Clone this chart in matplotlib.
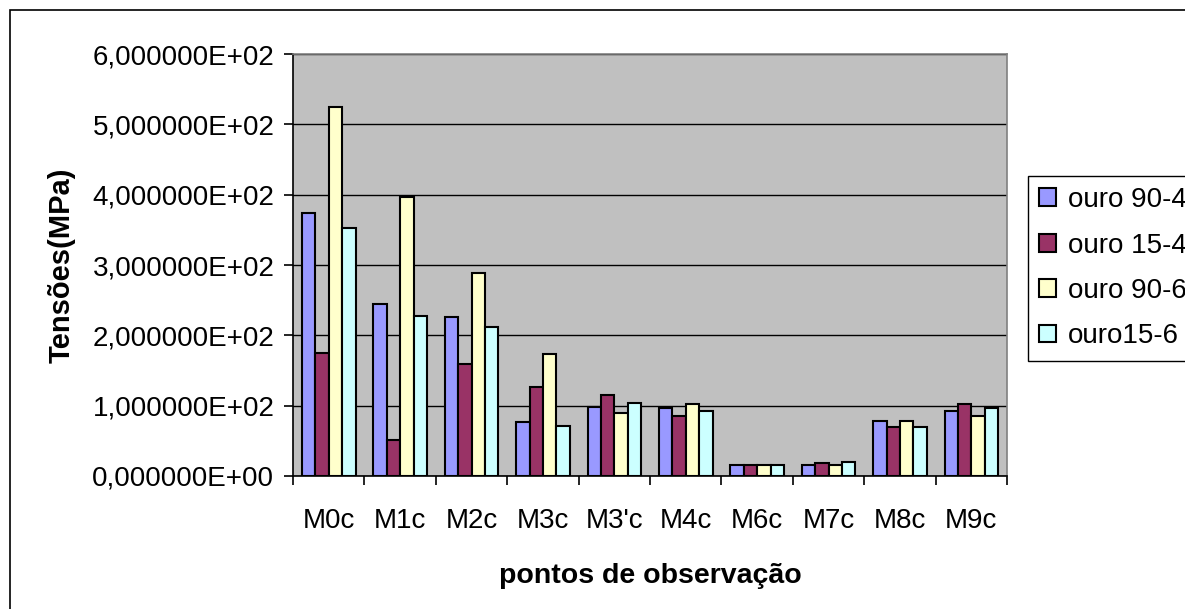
import numpy as np
import matplotlib.pyplot as plt
from matplotlib.ticker import FuncFormatter, MultipleLocator
from matplotlib.patches import Rectangle

plt.rcParams['font.family'] = ['Liberation Sans', 'DejaVu Sans']

pontos = ['M0c', 'M1c', 'M2c', 'M3c', "M3'c", 'M4c', 'M6c', 'M7c', 'M8c', 'M9c']
ouro_90_4 = [374, 244, 226, 77, 98, 97, 16, 16, 78, 92]
ouro_15_4 = [175, 51, 159, 126, 115, 86, 16, 19, 70, 103]
ouro_90_6 = [525, 396, 289, 173, 90, 103, 16, 16, 78, 86]
ouro15_6 = [352, 228, 212, 71, 104, 92, 16, 20, 70, 97]

series = [('ouro 90-4', ouro_90_4, '#9999FF'),
          ('ouro 15-4', ouro_15_4, '#993366'),
          ('ouro 90-6', ouro_90_6, '#FFFFCC'),
          ('ouro15-6', ouro15_6, '#CCFFFF')]

fig = plt.figure(figsize=(11.85, 6.09), dpi=100)
ax = fig.add_axes([0.2473, 0.2184, 0.6025, 0.6929])
ax.set_facecolor('#C0C0C0')

x = np.arange(len(pontos))
w = 0.1875
for i, (nome, vals, cor) in enumerate(series):
    ax.bar(x + (i - 1.5) * w, vals, w, color=cor, edgecolor='black',
           linewidth=1.5, label=nome, zorder=3)

ax.set_xlim(-0.5, len(pontos) - 0.5)
ax.set_ylim(0, 600)
ax.yaxis.set_major_locator(MultipleLocator(100))
ax.yaxis.set_major_formatter(FuncFormatter(lambda v, p: f'{v:.6E}'.replace('.', ',')))
ax.grid(axis='y', color='black', linewidth=1, zorder=1)

ax.set_xticks(x)
ax.set_xticklabels(pontos)
ax.set_xticks(np.arange(-0.5, len(pontos)), minor=True)
ax.tick_params(axis='x', which='major', length=0, pad=23, labelsize=20)
ax.tick_params(axis='x', which='minor', length=6.5, width=1.2, direction='out')
ax.tick_params(axis='y', length=6.5, width=1.2, direction='out', labelsize=20, pad=7)

for s in ['left', 'bottom']:
    ax.spines[s].set_color('black')
    ax.spines[s].set_linewidth(1.2)
for s in ['top', 'right']:
    ax.spines[s].set_color('#808080')
    ax.spines[s].set_linewidth(1.2)

ax.set_ylabel('Tensões(MPa)', fontsize=21, fontweight='bold', labelpad=12)
ax.set_xlabel('pontos de observação', fontsize=20.5, fontweight='bold', labelpad=21)

leg = fig.legend(loc='upper left', bbox_to_anchor=(1028 / 1185, 1 - 176 / 609),
                 fontsize=20, fancybox=False, framealpha=1, edgecolor='black',
                 handlelength=0.6, handleheight=0.6, handletextpad=0.45,
                 labelspacing=0.7, borderpad=0.4, borderaxespad=0)
leg.get_frame().set_linewidth(1)

# moldura da figura (so esquerda e topo aparecem)
fig.patches.append(Rectangle((10 / 1185, -0.1), 1.2, 1.1 - 10 / 609,
                             transform=fig.transFigure, fill=False,
                             edgecolor='black', linewidth=1.2))

fig.savefig('out.png', dpi=100)
